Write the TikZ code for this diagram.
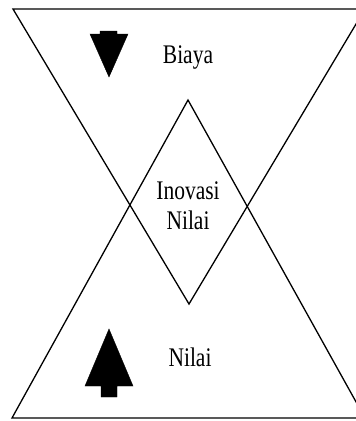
\documentclass[tikz,border=0pt]{standalone}
\usepackage{fontspec}
\usepackage{graphicx}
\setmainfont{Liberation Serif}
\newcommand{\tallbox}[1]{\scalebox{1}[1.25]{\begin{tabular}{@{}c@{}}#1\end{tabular}}}

\begin{document}
\begin{tikzpicture}[x=1pt, y=-1pt,
    shell/.style={draw, line width=1.3pt, line join=miter},
    blockarrow/.style={draw, fill=black, line width=0.4pt, line join=miter},
    caption/.style={font=\fontsize{21.5}{24}\selectfont, inner sep=0pt, align=center}
  ]
    \useasboundingbox (0,0) rectangle (356,421);
    \clip (0,0) rectangle (356,421);

    % Cost triangle (top) and value triangle (bottom).
    \draw[shell] (13,9) -- (365,9) -- (189,304) -- cycle;
    \draw[shell] (12,418) -- (365,418) -- (188,100) -- cycle;

    % Block arrows.
    \draw[blockarrow] (100,31) -- (117,31) -- (117,34) -- (128,34) -- (109,77) -- (90,34) -- (100,34) -- cycle;
    \draw[blockarrow] (101,397) -- (117,397) -- (117,386) -- (133,386) -- (109,329) -- (85,386) -- (101,386) -- cycle;

    % Texts.
    \node[caption] (biaya) at (188,57) {\tallbox{Biaya}};
    \node[caption] (inovasi) at (188,208) {\tallbox{Inovasi\\Nilai}};
    \node[caption] (nilai) at (190,360) {\tallbox{Nilai}};
  \end{tikzpicture}
\end{document}
